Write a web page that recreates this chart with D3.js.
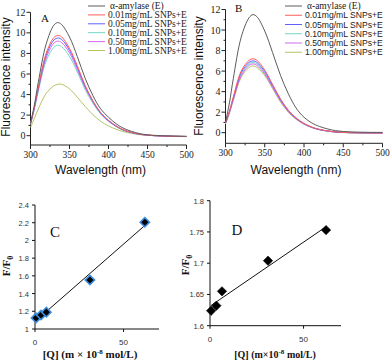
<!DOCTYPE html>
<html lang="en">
<head>
<meta charset="utf-8">
<title>Fluorescence quenching panels</title>
<script type="text/javascript" src="https://cdn.jsdelivr.net/npm/d3@7"></script>
<style type="text/css">
  body { margin: 0; background: #fff; }
  svg { display: block; }
</style>
</head>
<body>
<script type="text/javascript">

// Shared wavelength grid (nm)
var wavelengths = [300,305,310,320,330,335,340,350,360,370,380,390,400,410,420,440,460,480,500];

// Series names
var seriesNames = ["\u03b1-amylase  (E)", "0.01mg/mL SNPs+E", "0.05mg/mL SNPs+E",
                   "0.10mg/mL SNPs+E", "0.50mg/mL SNPs+E", "1.00mg/mL SNPs+E"];
var seriesColors = ["#5c5c5c", "#ff5c5c", "#6060ff", "#72d6c2", "#d468f2", "#b4c462"];

// Panel A spectra
var aE    = [1.2,3.0,5.2,8.9,10.75,11.0,10.8,9.6,7.7,5.6,3.9,2.6,1.8,1.15,0.7,0.2,0.03,-0.03,-0.06];
var aS001 = [1.15,2.8,4.7,8.0,9.55,9.75,9.6,8.5,6.8,4.9,3.4,2.25,1.5,0.95,0.55,0.15,0.0,-0.05,-0.08];
var aS005 = [1.15,2.75,4.6,7.8,9.3,9.5,9.35,8.3,6.65,4.8,3.35,2.2,1.45,0.92,0.53,0.14,0.0,-0.05,-0.08];
var aS010 = [1.1,2.6,4.3,7.25,8.6,8.8,8.65,7.7,6.2,4.5,3.15,2.1,1.4,0.88,0.5,0.13,-0.01,-0.06,-0.09];
var aS050 = [1.15,2.7,4.5,7.55,9.0,9.2,9.05,8.05,6.45,4.7,3.3,2.2,1.45,0.92,0.53,0.14,0.0,-0.05,-0.08];
var aS100 = [0.8,1.7,2.6,4.1,4.85,5.0,5.0,4.55,3.75,2.85,2.05,1.4,0.95,0.62,0.38,0.1,0.0,-0.04,-0.06];

// Panel B spectra
var bE    = [1.0,2.9,5.3,9.3,11.2,11.5,11.3,9.9,7.8,5.6,3.8,2.4,1.5,0.95,0.6,0.2,0.08,0.04,0.03];
var bS001 = [0.95,2.1,3.5,6.0,7.05,7.2,7.05,6.1,4.7,3.3,2.2,1.45,0.9,0.55,0.32,0.08,0.0,-0.02,-0.03];
var bS005 = [0.95,2.05,3.4,5.85,6.85,7.0,6.85,5.95,4.6,3.25,2.15,1.4,0.88,0.53,0.3,0.07,0.0,-0.02,-0.03];
var bS010 = [0.9,2.0,3.3,5.7,6.7,6.85,6.7,5.8,4.5,3.15,2.1,1.37,0.86,0.52,0.3,0.07,0.0,-0.02,-0.03];
var bS050 = [0.9,1.95,3.25,5.55,6.55,6.7,6.55,5.7,4.4,3.1,2.05,1.35,0.85,0.51,0.29,0.07,0.0,-0.02,-0.03];
var bS100 = [0.85,1.9,3.15,5.4,6.35,6.5,6.35,5.55,4.3,3.0,2.0,1.3,0.83,0.5,0.28,0.06,-0.01,-0.03,-0.04];

// Spectra axis ticks
var wlTicks = [300,350,400,450,500];
var wlMinor = [325,375,425,475];
var intTicks = [0,2,4,6,8,10,12];
var intMinor = [1,3,5,7,9,11];

// Panels C and D: quencher concentration vs F/F0
var quencher = [0.6, 3.4, 6.4, 31, 62];
var ratioC = [1.125, 1.158, 1.19, 1.553, 2.205];
var ratioD = [1.624, 1.632, 1.655, 1.704, 1.753];
var qTicks = [0, 50];
var cTicks = [1, 1.2, 1.4, 1.6, 1.8, 2, 2.2, 2.4];
var dTicks = [1.6, 1.65, 1.7, 1.75, 1.8];

var w = 392, h = 362;
var svg = d3.select("body").append("svg").attr("width", w).attr("height", h);

var serif = "'Liberation Serif', 'Times New Roman', serif";
var sans = "'Liberation Sans', Arial, sans-serif";

function drawSpectra(cfg) {
  var g = svg.append("g");
  var x = d3.scaleLinear().domain([300, 500]).range([cfg.x0, cfg.x1]);
  var y = d3.scaleLinear().domain([0, 12]).range([cfg.yZero, cfg.yTop]);
  var yBottom = cfg.yBottom;

  // axes lines
  g.append("line").attr("x1", x(300)).attr("x2", x(300))
    .attr("y1", y(12)).attr("y2", yBottom).attr("stroke", "#222");
  g.append("line").attr("x1", x(300)).attr("x2", x(500))
    .attr("y1", yBottom).attr("y2", yBottom).attr("stroke", "#222");

  // x ticks
  g.selectAll(".xt").data(wlTicks).enter().append("line")
    .attr("x1", d => x(d)).attr("x2", d => x(d))
    .attr("y1", yBottom).attr("y2", yBottom + 4).attr("stroke", "#222");
  g.selectAll(".xm").data(wlMinor).enter().append("line")
    .attr("x1", d => x(d)).attr("x2", d => x(d))
    .attr("y1", yBottom).attr("y2", yBottom + 2).attr("stroke", "#222");
  g.selectAll(".xl").data(wlTicks).enter().append("text")
    .attr("x", d => x(d)).attr("y", yBottom + 13)
    .attr("text-anchor", "middle").style("font-family", serif).style("font-size", "9.5px")
    .attr("fill", "#222").text(d => d);

  // y ticks
  g.selectAll(".yt").data(intTicks).enter().append("line")
    .attr("x1", x(300)).attr("x2", x(300) - 4)
    .attr("y1", d => y(d)).attr("y2", d => y(d)).attr("stroke", "#222");
  g.selectAll(".ym").data(intMinor).enter().append("line")
    .attr("x1", x(300)).attr("x2", x(300) - 2)
    .attr("y1", d => y(d)).attr("y2", d => y(d)).attr("stroke", "#222");
  g.selectAll(".yl").data(intTicks).enter().append("text")
    .attr("x", x(300) - 5).attr("y", d => y(d) + 3.5)
    .attr("text-anchor", "end").style("font-family", serif).style("font-size", "10px")
    .attr("fill", "#222").text(d => d);

  // axis titles
  g.append("text")
    .attr("transform", "translate(" + cfg.yTitleX + "," + cfg.yTitleY + ") rotate(-90)")
    .attr("text-anchor", "middle").style("font-family", sans).style("font-size", "12px")
    .attr("fill", "#111").text("Fluorescence  intensity");
  g.append("text").attr("x", (cfg.x0 + cfg.x1) / 2 - 8).attr("y", 174)
    .attr("text-anchor", "middle").style("font-family", sans).style("font-size", "12px")
    .attr("fill", "#111").text("Wavelength  (nm)");

  // curves
  var line = d3.line()
    .x((d, i) => x(wavelengths[i]))
    .y(d => y(d))
    .curve(d3.curveCatmullRom);
  var order = [5, 3, 4, 2, 1, 0];
  order.forEach(function(k) {
    g.append("path").datum(cfg.series[k]).attr("d", line)
      .attr("fill", "none").attr("stroke", seriesColors[k]).attr("stroke-width", 1);
  });

  // panel letter
  g.append("text").attr("x", cfg.letterX).attr("y", cfg.letterY)
    .style("font-family", serif).style("font-size", "11px").attr("fill", "#111")
    .text(cfg.letter);

  // legend
  var leg = g.append("g");
  seriesNames.forEach(function(name, i) {
    var yy = cfg.legY + i * cfg.legStep;
    leg.append("line").attr("x1", cfg.legX).attr("x2", cfg.legX + cfg.legLen)
      .attr("y1", yy).attr("y2", yy).attr("stroke", seriesColors[i]).attr("stroke-width", 1);
    var isSerif = cfg.legSerif || i === 0;
    leg.append("text").attr("x", cfg.legX + cfg.legLen + (i === 0 ? 5 : 3)).attr("y", yy + 3)
      .style("font-family", isSerif ? serif : sans)
      .style("font-size", isSerif ? "9.5px" : "8.6px")
      .attr("fill", "#222").text(name);
  });
}

drawSpectra({
  x0: 30.5, x1: 186.5, yZero: 135.7, yTop: 12.3, yBottom: 145,
  yTitleX: 10, yTitleY: 77, letter: "A", letterX: 41, letterY: 21.5,
  series: [aE, aS001, aS005, aS010, aS050, aS100],
  legX: 88, legLen: 17, legY: 6, legStep: 8.9, legSerif: true
});

drawSpectra({
  x0: 225.5, x1: 382.5, yZero: 132.7, yTop: 9.5, yBottom: 143.3,
  yTitleX: 203, yTitleY: 76, letter: "B", letterX: 235, letterY: 11.5,
  series: [bE, bS001, bS005, bS010, bS050, bS100],
  legX: 285, legLen: 17, legY: 6, legStep: 9.25, legSerif: false
});

function drawScatter(cfg) {
  var g = svg.append("g");
  var x = d3.scaleLinear().domain([0, 70]).range([cfg.x0, cfg.x1]);
  var y = d3.scaleLinear().domain(cfg.yDomain).range([cfg.yb, cfg.yt]);

  g.append("line").attr("x1", cfg.x0).attr("x2", cfg.x0)
    .attr("y1", cfg.yt).attr("y2", cfg.yb).attr("stroke", "#111");
  g.append("line").attr("x1", cfg.x0).attr("x2", cfg.x1)
    .attr("y1", cfg.yb).attr("y2", cfg.yb).attr("stroke", "#111");

  g.selectAll(".yt").data(cfg.ticks).enter().append("line")
    .attr("x1", cfg.x0 - 3).attr("x2", cfg.x0)
    .attr("y1", d => y(d)).attr("y2", d => y(d)).attr("stroke", "#111");
  g.selectAll(".yl").data(cfg.ticks).enter().append("text")
    .attr("x", cfg.x0 - 6).attr("y", d => y(d) + 3)
    .attr("text-anchor", "end").style("font-family", sans).style("font-size", "7.5px")
    .attr("fill", "#333").text(d => d);
  g.selectAll(".xt").data(qTicks).enter().append("line")
    .attr("x1", d => x(d)).attr("x2", d => x(d))
    .attr("y1", cfg.yb).attr("y2", cfg.yb + 3).attr("stroke", "#111");
  g.selectAll(".xl").data(qTicks).enter().append("text")
    .attr("x", d => x(d)).attr("y", cfg.yb + 16)
    .attr("text-anchor", "middle").style("font-family", sans).style("font-size", "8px")
    .attr("fill", "#333").text(d => d);

  // least-squares fit through the points
  var mx = d3.mean(quencher), my = d3.mean(cfg.values);
  var sxy = d3.sum(quencher, (q, i) => (q - mx) * (cfg.values[i] - my));
  var sxx = d3.sum(quencher, q => (q - mx) * (q - mx));
  var slope = sxy / sxx, icpt = my - slope * mx;
  var ext = d3.extent(quencher);
  g.append("line")
    .attr("x1", x(ext[0])).attr("y1", y(icpt + slope * ext[0]))
    .attr("x2", x(ext[1])).attr("y2", y(icpt + slope * ext[1]))
    .attr("stroke", "#111").attr("stroke-width", 1);

  var sym = d3.symbol().type(d3.symbolSquare).size(44);
  g.selectAll(".pt").data(cfg.values).enter().append("path")
    .attr("d", sym)
    .attr("transform", (d, i) => "translate(" + x(quencher[i]) + "," + y(d) + ") rotate(45)")
    .attr("fill", "#000")
    .attr("stroke", cfg.ptStroke).attr("stroke-width", cfg.ptStrokeW);

  g.append("text").attr("x", cfg.letterX).attr("y", cfg.letterY)
    .style("font-family", serif).style("font-size", "15px").attr("fill", "#111")
    .text(cfg.letter);

  var yt = g.append("text")
    .attr("transform", "translate(" + cfg.yTitleX + "," + cfg.yTitleY + ") rotate(-90)")
    .attr("text-anchor", "middle").style("font-family", serif).style("font-size", "11px")
    .style("font-weight", "bold").attr("fill", "#111");
  yt.append("tspan").text("F/F");
  yt.append("tspan").attr("dy", 3).style("font-size", "8px").text("0");

  var xt = g.append("text").attr("x", cfg.xTitleX).attr("y", 358)
    .attr("text-anchor", "middle").style("font-family", serif).style("font-size", cfg.xTitleSize)
    .style("font-weight", "bold").attr("fill", "#111");
  xt.append("tspan").text(cfg.xTitleA);
  xt.append("tspan").attr("dy", -4).style("font-size", "7px").text("-8");
  xt.append("tspan").attr("dy", 4).text(" mol/L)");
}

drawScatter({
  x0: 35, x1: 159, yt: 205, yb: 329, yDomain: [1, 2.4], ticks: cTicks,
  values: ratioC, ptStroke: "#3d8fe0", ptStrokeW: 1.6,
  letter: "C", letterX: 50, letterY: 237,
  yTitleX: 10, yTitleY: 266, xTitleX: 90, xTitleSize: "11px",
  xTitleA: "[Q] (m \u00d7 10"
});

drawScatter({
  x0: 210, x1: 341, yt: 200.7, yb: 325.7, yDomain: [1.6, 1.8], ticks: dTicks,
  values: ratioD, ptStroke: "#111", ptStrokeW: 0.6,
  letter: "D", letterX: 231.5, letterY: 235,
  yTitleX: 189, yTitleY: 265, xTitleX: 275, xTitleSize: "10px",
  xTitleA: "[Q] (m\u00d710"
});

</script>
</body>
</html>
